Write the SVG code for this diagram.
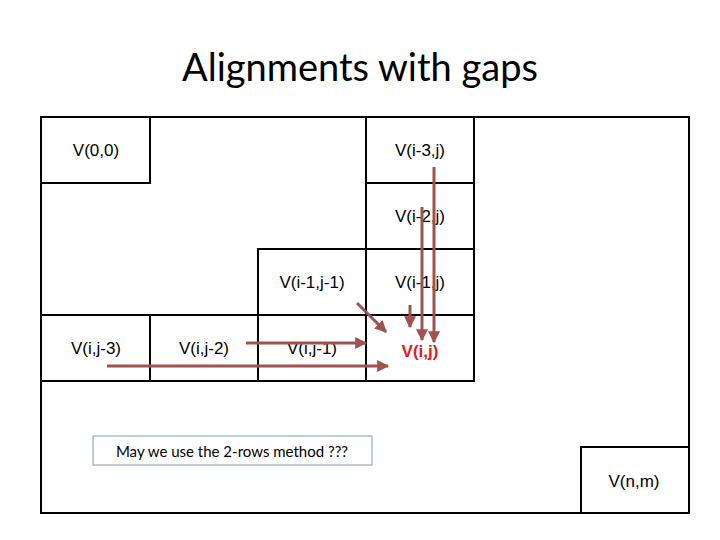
<svg xmlns="http://www.w3.org/2000/svg" width="720" height="540" viewBox="0 0 720 540">
<style>
.c{fill:none;stroke:#000;stroke-width:2}
.t{font-family:"Liberation Sans",Arial,sans-serif;font-size:17px;text-anchor:middle;fill:#000}
.a{stroke:#A0524F;stroke-width:3;fill:none;marker-end:url(#ah)}
</style>
<defs><marker id="ah" viewBox="0 0 10 10" refX="9" refY="5" markerWidth="4" markerHeight="4" orient="auto"><path d="M0,0L10,5L0,10z" fill="#A0524F"/></marker></defs>
<rect width="720" height="540" fill="#fff"/>
<text x="360" y="81" font-family="Lato,'Liberation Sans',sans-serif" font-size="38" text-anchor="middle">Alignments with gaps</text>
<rect id="outer" class="c" x="41" y="117" width="648" height="396"/>
<g id="v00"><rect class="c" x="41" y="117" width="109" height="66"/><text class="t" x="96" y="156">V(0,0)</text></g>
<g id="vi3j"><rect class="c" x="366" y="117" width="108" height="66"/><text class="t" x="420" y="156">V(i-3,j)</text></g>
<g id="vi2j"><rect class="c" x="366" y="183" width="108" height="66"/><text class="t" x="420" y="222">V(i-2,j)</text></g>
<g id="vi1j1"><rect class="c" x="258" y="249" width="108" height="66"/><text class="t" x="312" y="288">V(i-1,j-1)</text></g>
<g id="vi1j"><rect class="c" x="366" y="249" width="108" height="66"/><text class="t" x="420" y="288">V(i-1,j)</text></g>
<g id="vij3"><rect class="c" x="41" y="315" width="109" height="66"/><text class="t" x="96" y="354">V(i,j-3)</text></g>
<g id="vij2"><rect class="c" x="150" y="315" width="108" height="66"/><text class="t" x="204" y="354">V(i,j-2)</text></g>
<g id="vij1"><rect class="c" x="258" y="315" width="108" height="66"/><text class="t" x="312" y="354">V(i,j-1)</text></g>
<g id="vij"><rect class="c" x="366" y="315" width="108" height="66"/><text class="t" x="420" y="357" fill="#E0201B" font-weight="bold" style="fill:#E0201B">V(i,j)</text></g>
<g id="vnm"><rect class="c" x="581" y="447" width="108" height="66"/><text class="t" x="634" y="487">V(n,m)</text></g>
<g id="note"><rect x="93" y="436" width="279" height="29" fill="#fff" stroke="#7F9DB0" stroke-width="1"/><text x="232" y="457" font-family="Lato,'Liberation Sans',sans-serif" font-size="15" text-anchor="middle">May we use the 2-rows method ???</text></g>
<g id="connectors">
<line class="a" x1="107" y1="366" x2="388" y2="366"/>
<line class="a" x1="246" y1="343" x2="366" y2="343"/>
<line class="a" x1="357" y1="303" x2="386" y2="332"/>
<line class="a" x1="410" y1="305" x2="410" y2="327"/>
<line class="a" x1="422" y1="207" x2="422" y2="340"/>
<line class="a" x1="434" y1="167" x2="434" y2="342"/>
</g>
</svg>
